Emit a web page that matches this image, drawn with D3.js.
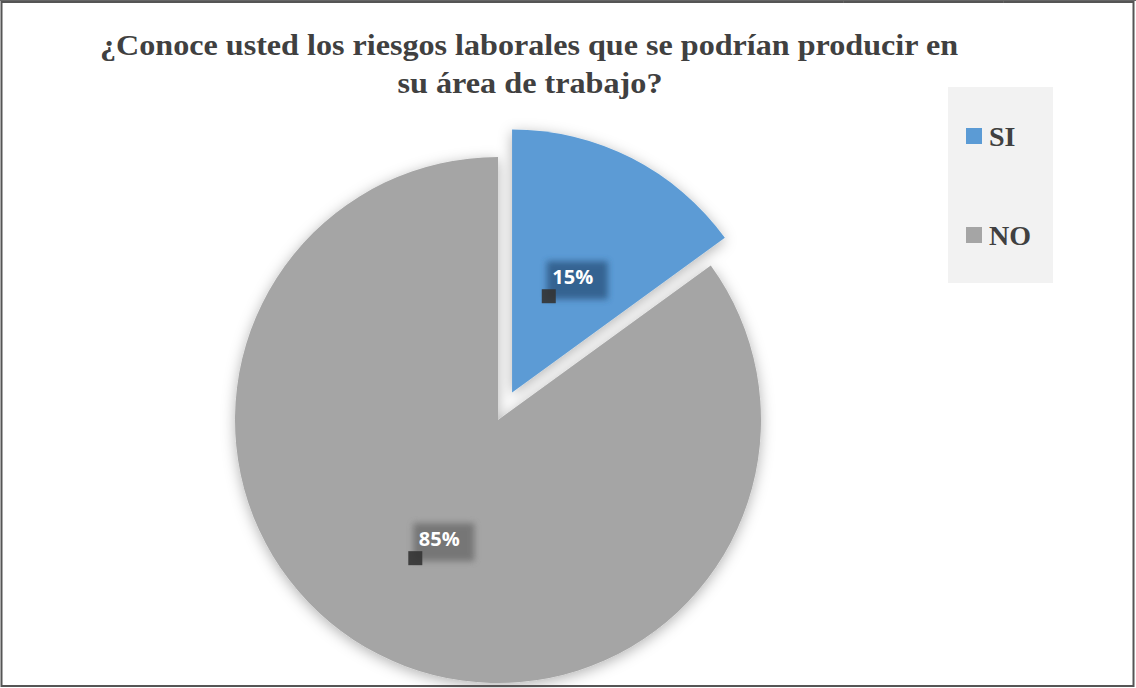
<!DOCTYPE html>
<html><head><meta charset="utf-8">
<script src="https://cdn.jsdelivr.net/npm/d3@7"></script>
<style>html,body{margin:0;padding:0;background:#fff;}svg{display:block;}</style>
</head><body>
<script>
const categories = ["SI", "NO"];
const values = [15, 85];
const labels = ["15%", "85%"];
const colors = ["#5b9bd5", "#a5a5a5"];
const labelBoxColors = ["#2f5a86", "#6e6e6e"];
const titleLines = ["¿Conoce usted los riesgos laborales que se podrían producir en", "su área de trabajo?"];

const W = 1136, H = 688;
const svg = d3.select("body").append("svg").attr("width", W).attr("height", H);
const defs = svg.append("defs");
const sh = defs.append("filter").attr("id","shadow").attr("x","-20%").attr("y","-20%").attr("width","140%").attr("height","140%");
sh.append("feDropShadow").attr("dx",0).attr("dy",3).attr("stdDeviation",7).attr("flood-color","#000").attr("flood-opacity",0.3);
const bl = defs.append("filter").attr("id","blur").attr("x","-30%").attr("y","-30%").attr("width","160%").attr("height","160%");
bl.append("feGaussianBlur").attr("stdDeviation",3);

svg.append("rect").attr("x",0).attr("y",0).attr("width",W).attr("height",H).attr("fill","#fff");

// title
const title = svg.append("g").attr("fill","#404040").attr("font-family","'Liberation Serif', 'Times New Roman', serif").attr("font-weight","bold").attr("font-size",30).attr("text-anchor","middle");
title.append("text").attr("x",529).attr("y",55).attr("textLength",858).attr("lengthAdjust","spacingAndGlyphs").text(titleLines[0]);
title.append("text").attr("x",530).attr("y",93).attr("textLength",265).attr("lengthAdjust","spacingAndGlyphs").text(titleLines[1]);

// pie
const cx = 498, cy = 420, r = 263, explode = 31;
const pie = d3.pie().sort(null).value(d => d)(values);
const arc = d3.arc().innerRadius(0).outerRadius(r);
const g = svg.append("g").attr("transform",`translate(${cx},${cy})`);
const offs = pie.map((p,i) => {
  if (i !== 0) return [0,0];
  const a = (p.startAngle + p.endAngle)/2;
  return [explode*Math.sin(a), -explode*Math.cos(a)];
});
const slices = g.append("g").attr("filter","url(#shadow)");
slices.selectAll("path").data(pie).join("path")
  .attr("d", arc)
  .attr("transform",(d,i)=>`translate(${offs[i][0]},${offs[i][1]})`)
  .attr("fill",(d,i)=>colors[i]);

// labels
const lab = g.append("g");
pie.forEach((p,i) => {
  const c = arc.centroid(p);
  const x = c[0] + offs[i][0], y = c[1] + offs[i][1];
  lab.append("rect").attr("x",x-25).attr("y",y-14).attr("width",61).attr("height",38)
    .attr("fill",labelBoxColors[i]).attr("opacity",0.85).attr("filter","url(#blur)");
  lab.append("rect").attr("x",x-30).attr("y",y+14).attr("width",14).attr("height",14).attr("fill","#333").attr("opacity",0.9);
  lab.append("text").attr("x",x+1).attr("y",y+9).attr("text-anchor","middle")
    .attr("fill","#fff").attr("font-family","'Open Sans', 'Liberation Sans', sans-serif").attr("font-weight","bold").attr("font-size",20)
    .text(labels[i]);
});

// legend
const lg = svg.append("g");
lg.append("rect").attr("x",948).attr("y",87).attr("width",105).attr("height",196).attr("fill","#f2f2f2");
categories.forEach((c,i) => {
  const y = 128 + i*99;
  lg.append("rect").attr("x",966).attr("y",y).attr("width",16).attr("height",16).attr("fill",colors[i]);
  lg.append("text").attr("x",989).attr("y",y+18).attr("fill","#404040")
    .attr("font-family","'Liberation Serif', 'Times New Roman', serif").attr("font-weight","bold").attr("font-size",28).text(c);
});

// borders
svg.append("rect").attr("x",1.5).attr("y",2).attr("width",1132).attr("height",684).attr("fill","none").attr("stroke","#555").attr("stroke-width",2);
svg.append("line").attr("x1",0).attr("x2",W).attr("y1",0.5).attr("y2",0.5).attr("stroke","#666").attr("stroke-width",1);
svg.append("line").attr("x1",843.5).attr("x2",843.5).attr("y1",0).attr("y2",3).attr("stroke","#666");
svg.append("line").attr("x1",1003.5).attr("x2",1003.5).attr("y1",0).attr("y2",3).attr("stroke","#666");
</script>
</body></html>
